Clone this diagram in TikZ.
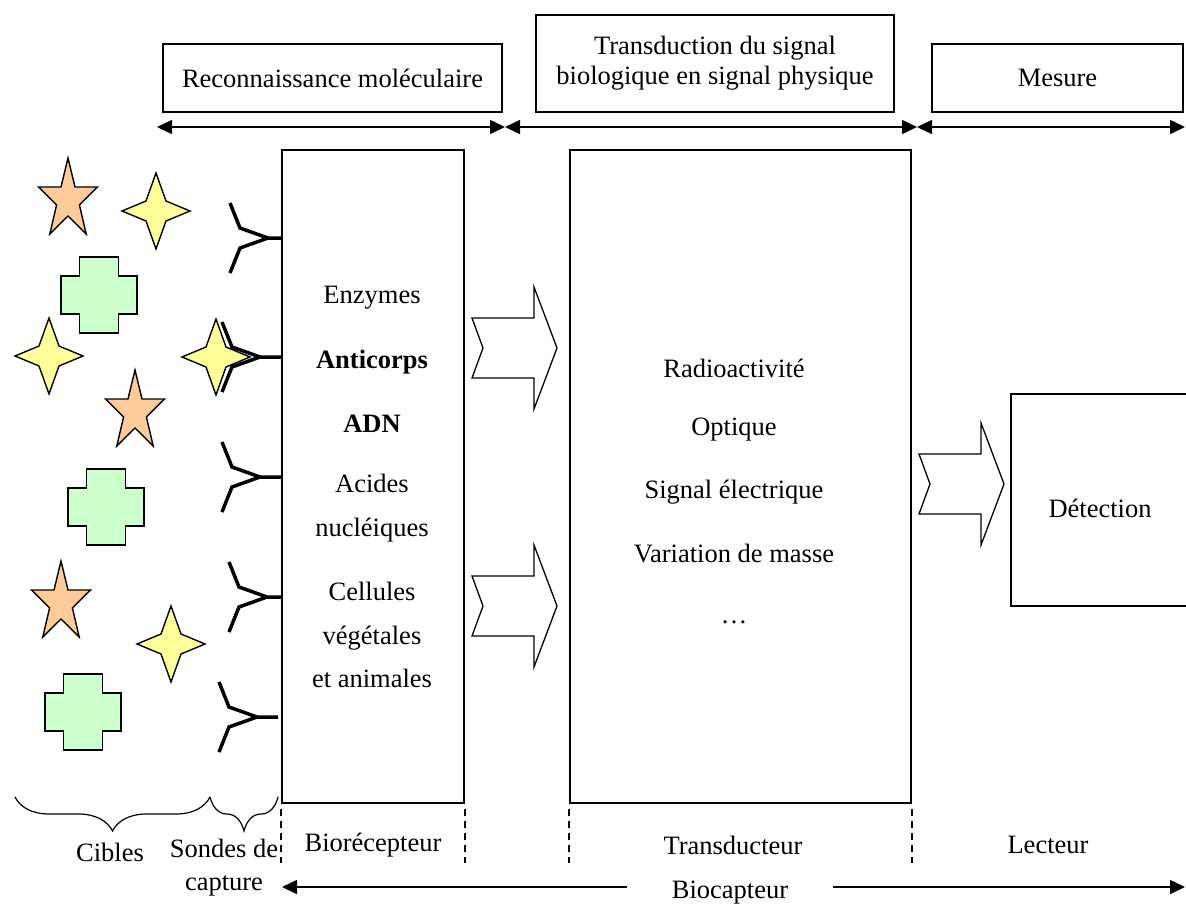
\documentclass[tikz,border=0pt]{standalone}
\usepackage{fontspec}
\setmainfont{Liberation Serif}
\usetikzlibrary{positioning,arrows.meta,decorations.pathreplacing}

\begin{document}
\begin{tikzpicture}[x=1pt, y=-1pt,
    font=\fontsize{26.5}{30}\selectfont,
    phasebox/.style={rectangle, draw, line width=1.5pt, align=center, inner sep=0pt},
    partbox/.style={rectangle, draw, line width=1.5pt, inner sep=0pt},
    itemtext/.style={align=center, inner sep=0pt, font=\fontsize{26.5}{43.5}\selectfont},
    phasearrow/.style={{Triangle[length=15pt,width=14pt]}-{Triangle[length=15pt,width=14pt]}, line width=1.5pt},
    spanarrow/.style={-{Triangle[length=15pt,width=14pt]}, line width=1.5pt},
    limitline/.style={line width=1.8pt, dash pattern=on 7pt off 5pt},
    blockarrow/.style={draw, fill=white, line width=1.3pt, line join=miter},
    antibody/.style={line width=3.5pt, line join=miter},
    orangestar/.style={draw, fill={rgb,255:red,255;green,204;blue,153}, line width=1.4pt},
    yellowstar/.style={draw, fill={rgb,255:red,255;green,255;blue,153}, line width=1.4pt},
    greencross/.style={draw, fill={rgb,255:red,204;green,255;blue,204}, line width=1.4pt},
    capbrace/.style={decorate, decoration={brace, mirror, amplitude=34pt}, line width=1.2pt}
   ]
   \useasboundingbox (0,0) rectangle (1186,906);

   % phases
   \node[phasebox, minimum width=339pt, minimum height=68pt] (recog)  at (332.5,78)  {Reconnaissance moléculaire};
   \node[phasebox, minimum width=358pt, minimum height=97pt] (transd) at (715,63.5)  {Transduction du signal\\biologique en signal physique};
   \node[phasebox, minimum width=251pt, minimum height=68pt] (mesure) at (1057.5,78) {Mesure};

   \coordinate (t0) at (157,127);
   \coordinate (t1) at (505,127);
   \coordinate (t2) at (917,127);
   \coordinate (t3) at (1185,127);
   \draw[phasearrow] (t0) -- (t1);
   \draw[phasearrow] (t1) -- (t2);
   \draw[phasearrow] (t2) -- (t3);

   % biocapteur parts
   \node[partbox, minimum width=182pt, minimum height=653pt] (biorec)   at (373,476.5)   {};
   \node[partbox, minimum width=341pt, minimum height=653pt] (transbox) at (740.5,476.5) {};
   \node[partbox, minimum width=179pt, minimum height=212pt] (detect)   at (1100.5,500)  {};

   \node[itemtext] (enzymes)   at (372,298) {Enzymes};
   \node[itemtext] (anticorps) at (372,362) {\textbf{Anticorps}};
   \node[itemtext] (adn)       at (372,424) {\textbf{ADN}};
   \node[itemtext] (acides)    at (372,508) {Acides\\nucléiques};
   \node[itemtext] (cellules)  at (372,635) {Cellules\\végétales\\et animales};

   \node[itemtext] (radio)     at (734,368) {Radioactivité};
   \node[itemtext] (optique)   at (734,430) {Optique};
   \node[itemtext] (electr)    at (734,492) {Signal électrique};
   \node[itemtext] (masse)     at (734,553) {Variation de masse};
   \node[itemtext] (etc)       at (734,622) {…};

   \node[itemtext] (detecttxt) at (1100,508) {Détection};

   \foreach \lx/\cy in {472/348, 472/606, 919/484}
     \draw[blockarrow, shift={(\lx,\cy)}] (0,-30) -- (11,0) -- (0,30) -- (62,30) -- (62,61)
       -- (85,0) -- (62,-61) -- (62,-30) -- cycle;

   % capture probes
   \foreach \y/\j/\s in {238/268/282, 357/260/282, 477/260/282, 597/267/282, 717/257/278}
     \draw[antibody] ({\j-38},{\y-35}) -- ({\j-28},{\y-10}) -- (\j,\y) -- ({\j-28},{\y+10})
       -- ({\j-38},{\y+35}) (\j,\y) -- (\s,\y);

   % targets
   \foreach \cx/\cy in {68/200, 135/412, 61/603}
     \draw[orangestar, shift={(\cx,\cy)}] (0,-42) -- (7,-13) -- (29.5,-13) -- (11.4,4.9) -- (18.2,34)
       -- (0,16) -- (-18.2,34) -- (-11.4,4.9) -- (-29.5,-13) -- (-7,-13) -- cycle;
   \foreach \cx/\cy in {156/211, 49/356, 216/357, 171/644}
     \draw[yellowstar, shift={(\cx,\cy)}] (0,-38) -- (10,-10) -- (34,0) -- (10,10) -- (0,38)
       -- (-10,10) -- (-34,0) -- (-10,-10) -- cycle;
   \foreach \cx/\cy in {99/295, 106/507, 83/712}
     \draw[greencross, shift={(\cx,\cy)}] (-19.5,-38) -- (19.5,-38) -- (19.5,-19) -- (38,-19)
       -- (38,19) -- (19.5,19) -- (19.5,38) -- (-19.5,38) -- (-19.5,19) -- (-38,19)
       -- (-38,-19) -- (-19.5,-19) -- cycle;

   % bottom labels
   \draw[capbrace] (15,797) -- (210,797);
   \draw[capbrace] (210,797) -- (278,797);
   \draw[limitline] ([yshift=-5pt]biorec.south west) -- ++(0,54);
   \draw[limitline] ([yshift=-5pt]biorec.south east) -- ++(0,54);
   \draw[limitline] ([yshift=-5pt]transbox.south west) -- ++(0,54);
   \draw[limitline] ([yshift=-5pt]transbox.south east) -- ++(0,54);

   \node (cibles)  at (110,852) {Cibles};
   \node[align=center, inner sep=0pt, font=\fontsize{26.5}{33}\selectfont] (sondes) at (224,868) {Sondes de\\capture};
   \node (biorecl) at (373,845) {Biorécepteur};
   \node (transl)  at (733,845) {Transducteur};
   \node (lectl)   at (1048,845) {Lecteur};

   \node[minimum width=206pt, inner sep=0pt] (biocap) at (730,893) {Biocapteur};
   \coordinate (bioleft)  at (282,887);
   \coordinate (bioright) at (1185,887);
   \draw[spanarrow] (biocap.west |- bioleft) -- (bioleft);
   \draw[spanarrow] (biocap.east |- bioright) -- (bioright);
\end{tikzpicture}
\end{document}
